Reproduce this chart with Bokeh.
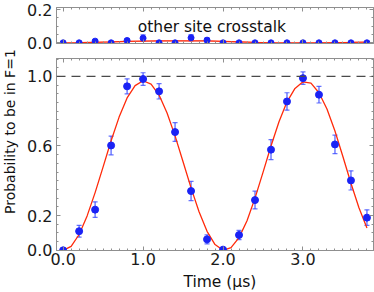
import numpy as np
from bokeh.plotting import figure
from bokeh.models import (Range1d, FixedTicker, LinearAxis, Whisker, TeeHead, Span,
                          Label, ColumnDataSource, PrintfTickFormatter, CustomJSTickFormatter)
from bokeh.layouts import row, column
from bokeh.embed import file_html
from bokeh.resources import INLINE

# ---------------- data ----------------
time_us = [0.0, 0.2, 0.4, 0.6, 0.8, 1.0, 1.2, 1.4, 1.6, 1.8,
           2.0, 2.2, 2.4, 2.6, 2.8, 3.0, 3.2, 3.4, 3.6, 3.8]
prob_f1 = [0.0, 0.11, 0.234, 0.603, 0.943, 0.985, 0.914, 0.68, 0.341, 0.063,
           0.004, 0.088, 0.289, 0.579, 0.856, 0.99, 0.895, 0.609, 0.402, 0.188]
prob_err = [0.005, 0.034, 0.045, 0.054, 0.043, 0.036, 0.044, 0.054, 0.055, 0.026,
            0.005, 0.027, 0.051, 0.057, 0.05, 0.036, 0.048, 0.053, 0.055, 0.045]

fit_time = [0.0, 0.1, 0.2, 0.3, 0.4, 0.5, 0.6, 0.7, 0.8, 0.9,
            1.0, 1.1, 1.2, 1.3, 1.4, 1.5, 1.6, 1.7, 1.8, 1.9,
            2.0, 2.1, 2.2, 2.3, 2.4, 2.5, 2.6, 2.7, 2.8, 2.9,
            3.0, 3.1, 3.2, 3.3, 3.4, 3.5, 3.6, 3.7, 3.8]
fit_prob = [0.0, 0.023, 0.091, 0.198, 0.332, 0.480, 0.630, 0.766, 0.876, 0.947,
            0.975, 0.956, 0.893, 0.790, 0.658, 0.509, 0.359, 0.222, 0.109, 0.033,
            0.000, 0.015, 0.073, 0.170, 0.300, 0.448, 0.600, 0.739, 0.854, 0.931,
            0.969, 0.961, 0.906, 0.813, 0.686, 0.538, 0.386, 0.245, 0.129]

crosstalk = [0.0, 0.0, 0.01, 0.0, 0.014, 0.028, 0.0, 0.0, 0.03, 0.016,
             0.0, 0.0, 0.0, 0.0, 0.0, 0.0, 0.0, 0.0, 0.0, 0.0]
crosstalk_err = [0.0, 0.0, 0.008, 0.0, 0.01, 0.02, 0.0, 0.0, 0.019, 0.013,
                 0.0, 0.0, 0.0, 0.0, 0.0, 0.0, 0.0, 0.0, 0.0, 0.0]
crosstalk_fit = [0.0, 0.001, 0.003, 0.005, 0.008, 0.010, 0.011, 0.012, 0.012, 0.011,
                 0.008, 0.005, 0.002, 0.0, 0.0, 0.0, 0.0, 0.001, 0.002, 0.004]
crosstalk_fit_lo = [0.0, 0.0, 0.0, 0.001, 0.004, 0.006, 0.007, 0.008, 0.008, 0.007,
                    0.004, 0.001, 0.0, 0.0, 0.0, 0.0, 0.0, 0.0, 0.0, 0.0]
crosstalk_fit_hi = [0.004, 0.005, 0.007, 0.009, 0.012, 0.014, 0.015, 0.016, 0.016, 0.015,
                    0.012, 0.009, 0.006, 0.004, 0.004, 0.004, 0.004, 0.005, 0.006, 0.008]

x_tick_values = [0.0, 1.0, 2.0, 3.0]
main_y_tick_values = [0.0, 0.2, 0.6, 1.0]
top_y_tick_values = [0.0, 0.2]
reference_level = 1.0

title_top = "other site crosstalk"
x_label = "Time (μs)"
y_label = "Probability to be in F=1"

# ---------------- style ----------------
FONT = "DejaVu Sans"
AX_COL = "#8f8f8f"
PT_COL = "#1a22f5"
ERR_COL = "#3344ff"
FIT_COL = "#ff2a0a"

x_minor = [round(v, 2) for v in np.arange(-0.0, 3.9, 0.1)]
y_minor_main = [round(v, 3) for v in np.arange(0.0, 1.101, 0.05)]
y_minor_top = [round(v, 3) for v in np.arange(0.0, 0.21, 0.05)]


def make_axis(ticks, minor, labels):
    if labels:
        fmt = PrintfTickFormatter(format="%.1f")
    else:
        fmt = CustomJSTickFormatter(code="return '';")
    ax = LinearAxis(ticker=FixedTicker(ticks=ticks, minor_ticks=minor), formatter=fmt)
    ax.axis_line_color = AX_COL
    ax.major_tick_line_color = AX_COL
    ax.minor_tick_line_color = AX_COL
    ax.major_tick_in = 4
    ax.major_tick_out = 0
    ax.minor_tick_in = 2
    ax.minor_tick_out = 0
    ax.axis_label_standoff = 0
    if labels:
        ax.major_label_text_font = FONT
        ax.major_label_text_font_size = "16px"
        ax.major_label_text_color = "#1a1a1a"
    else:
        ax.major_label_text_font_size = "1px"
        ax.major_label_standoff = 0
    return ax


X_RANGE = (-0.083, 3.882)
FIG_W = 352
LEFT_B = 34

# ---------------- top panel ----------------
top = figure(width=FIG_W, height=52, x_range=Range1d(*X_RANGE), y_range=Range1d(-0.0042, 0.212),
             x_axis_type=None, y_axis_type=None, toolbar_location=None, output_backend="svg",
             min_border_left=LEFT_B, min_border_right=1, min_border_top=7, min_border_bottom=9)
top.outline_line_color = AX_COL
ax = make_axis(top_y_tick_values, y_minor_top, True)
ax.major_label_standoff = 4
top.add_layout(ax, "left")
top.add_layout(make_axis(top_y_tick_values, y_minor_top, False), "right")
top.add_layout(make_axis(x_tick_values, x_minor, False), "above")
top.add_layout(make_axis(x_tick_values, x_minor, False), "below")

top.varea(x=time_us, y1=crosstalk_fit_lo, y2=crosstalk_fit_hi, fill_color="#ff8a8a", fill_alpha=0.6)
top.line(time_us, crosstalk_fit, line_color=FIT_COL, line_width=1.3)
src_top = ColumnDataSource(dict(x=time_us, y=crosstalk,
                                lo=[a - b for a, b in zip(crosstalk, crosstalk_err)],
                                hi=[a + b for a, b in zip(crosstalk, crosstalk_err)]))
top.add_layout(Whisker(source=src_top, base="x", lower="lo", upper="hi", line_color=ERR_COL,
                       line_alpha=0.75, line_width=1.4,
                       lower_head=TeeHead(size=5, line_color=ERR_COL, line_alpha=0.75, line_width=1.2),
                       upper_head=TeeHead(size=5, line_color=ERR_COL, line_alpha=0.75, line_width=1.2)))
top.scatter("x", "y", source=src_top, size=6, fill_color=PT_COL, line_color=PT_COL)
top.add_layout(Label(x=1.86, y=0.094, text=title_top, text_font=FONT, text_font_size="15.5px",
                     text_align="center", text_baseline="alphabetic", text_color="#111111"))

# ---------------- main panel ----------------
p = figure(width=FIG_W, height=219, x_range=Range1d(*X_RANGE), y_range=Range1d(-0.001, 1.103),
           x_axis_type=None, y_axis_type=None, toolbar_location=None, output_backend="svg",
           min_border_left=LEFT_B, min_border_right=1, min_border_top=6, min_border_bottom=21)
p.outline_line_color = AX_COL
axl = make_axis(main_y_tick_values, y_minor_main, True)
axl.major_label_standoff = 4
p.add_layout(axl, "left")
p.add_layout(make_axis(main_y_tick_values, y_minor_main, False), "right")
p.add_layout(make_axis(x_tick_values, x_minor, False), "above")
axb = make_axis(x_tick_values, x_minor, True)
axb.major_label_standoff = 2
p.add_layout(axb, "below")

p.add_layout(Span(location=reference_level, dimension="width", line_color="#4a4a4a",
                  line_dash="9 6", line_width=1.2))
p.line(fit_time, fit_prob, line_color=FIT_COL, line_width=1.3)
src = ColumnDataSource(dict(x=time_us, y=prob_f1,
                            lo=[a - b for a, b in zip(prob_f1, prob_err)],
                            hi=[a + b for a, b in zip(prob_f1, prob_err)]))
p.add_layout(Whisker(source=src, base="x", lower="lo", upper="hi", line_color=ERR_COL,
                     line_alpha=0.75, line_width=1.4,
                     lower_head=TeeHead(size=5, line_color=ERR_COL, line_alpha=0.75, line_width=1.2),
                     upper_head=TeeHead(size=5, line_color=ERR_COL, line_alpha=0.75, line_width=1.2)))
p.scatter("x", "y", source=src, size=7, fill_color=PT_COL, line_color=PT_COL)

# ---------------- x label strip ----------------
xl = figure(width=FIG_W, height=21, x_range=Range1d(*X_RANGE), y_range=Range1d(0, 21),
            x_axis_type=None, y_axis_type=None, toolbar_location=None, output_backend="svg",
            min_border_left=LEFT_B, min_border_right=1, min_border_top=0, min_border_bottom=0)
xl.outline_line_color = None
xl.add_layout(Label(x=1.96, y=10.5, text=x_label, text_font=FONT, text_font_size="15.5px",
                    text_align="center", text_baseline="middle", text_color="#111111"))

# ---------------- y label strip ----------------
lab = figure(width=22, height=292, x_range=Range1d(0, 1), y_range=Range1d(0, 1),
             x_axis_type=None, y_axis_type=None, toolbar_location=None, output_backend="svg",
             min_border=0)
lab.outline_line_color = None
lab.add_layout(Label(x=0.45, y=0.551, text=y_label, angle=np.pi / 2, text_font=FONT,
                     text_font_size="14px", text_align="center", text_baseline="middle",
                     text_color="#111111"))

layout = row(lab, column(top, p, xl))
open("out.html", "w").write(file_html(layout, INLINE))
